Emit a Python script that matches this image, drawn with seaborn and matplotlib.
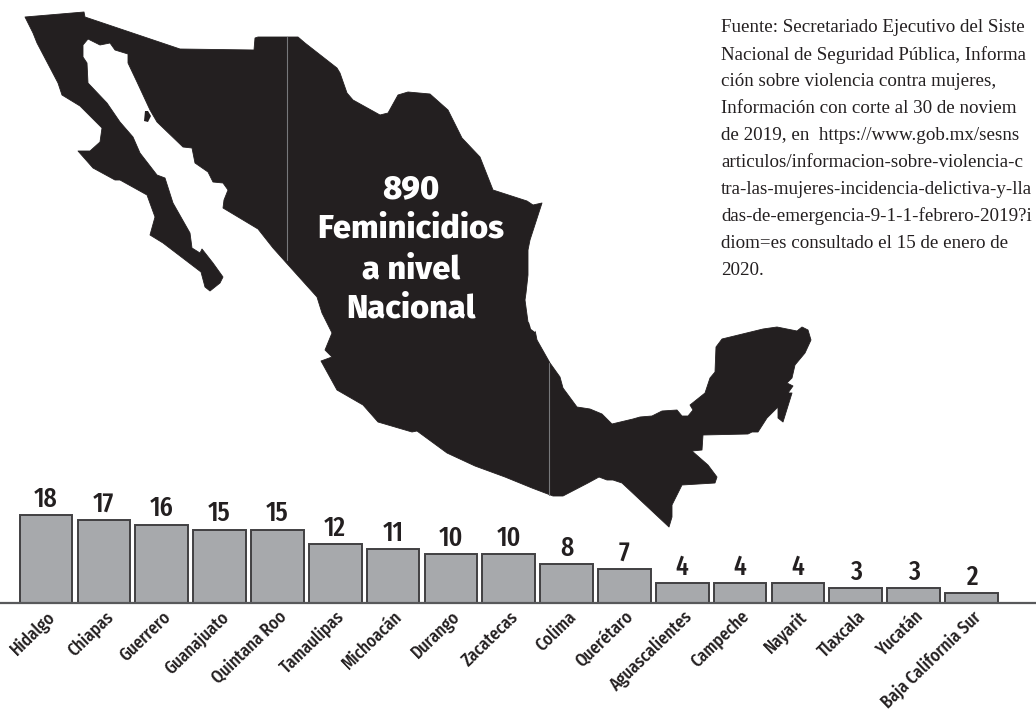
import matplotlib
matplotlib.use('Agg')
import matplotlib.pyplot as plt
import matplotlib.transforms as mtrans
from matplotlib.patches import Polygon
import seaborn as sns

estados = ['Hidalgo', 'Chiapas', 'Guerrero', 'Guanajuato', 'Quintana Roo', 'Tamaulipas',
           'Michoacán', 'Durango', 'Zacatecas', 'Colima', 'Querétaro', 'Aguascalientes',
           'Campeche', 'Nayarit', 'Tlaxcala', 'Yucatán', 'Baja California Sur']
feminicidios = [18, 17, 16, 15, 15, 12, 11, 10, 10, 8, 7, 4, 4, 4, 3, 3, 2]

titulo = ['890', 'Feminicidios', 'a nivel', 'Nacional']
fuente = ['Fuente: Secretariado Ejecutivo del Siste',
          'Nacional de Seguridad Pública, Informa',
          'ción sobre violencia contra mujeres,',
          'Información con corte al 30 de noviem',
          'de 2019, en  https://www.gob.mx/sesns',
          'articulos/informacion-sobre-violencia-c',
          'tra-las-mujeres-incidencia-delictiva-y-lla',
          'das-de-emergencia-9-1-1-febrero-2019?i',
          'diom=es consultado el 15 de enero de',
          '2020.']

# silueta del mapa, en pixeles de la imagen
mapa = [(25, 17), (84, 12), (85, 17), (180, 49), (254, 50), (255, 38), (258, 37), (298, 37),
        (305, 43), (337, 68), (340, 73), (347, 93), (353, 100), (380, 115), (388, 113), (398, 95),
        (408, 92), (430, 94), (448, 110), (462, 138), (480, 157), (493, 190), (527, 201), (533, 205),
        (542, 203), (530, 240), (528, 250), (528, 275), (526, 293), (525, 300), (528, 322), (535, 330),
        (537, 340), (550, 363), (560, 377), (563, 388), (577, 407), (590, 409), (602, 414), (612, 424),
        (633, 419), (640, 417), (652, 416), (662, 411), (677, 410), (682, 416), (688, 416), (693, 410),
        (690, 405), (705, 393), (710, 378), (715, 372), (716, 347), (722, 339), (763, 329), (777, 327),
        (797, 331), (802, 327), (808, 330), (811, 340), (805, 353), (795, 365), (792, 378), (787, 383),
        (793, 386), (788, 393), (792, 393), (783, 422), (778, 418), (778, 407), (767, 418), (758, 432),
        (752, 432), (748, 434), (703, 435), (702, 450), (692, 451), (708, 465), (717, 477), (715, 483),
        (682, 485), (672, 505), (672, 517), (669, 527), (622, 483), (613, 480), (607, 480), (599, 477),
        (588, 483), (563, 496), (553, 496), (532, 488), (505, 477), (475, 466), (447, 453), (417, 431),
        (412, 432), (378, 422), (363, 405), (337, 390), (321, 361), (332, 357), (325, 350), (332, 333),
        (322, 313), (317, 297), (290, 267), (273, 248), (258, 229), (238, 217), (223, 208), (224, 200),
        (228, 190), (223, 183), (213, 182), (208, 172), (195, 163), (192, 148), (183, 147), (157, 122),
        (150, 110), (137, 82), (128, 63), (128, 54), (115, 50), (110, 43), (100, 45), (88, 39),
        (83, 45), (83, 57), (87, 63), (88, 83), (107, 103), (120, 122), (133, 137), (140, 153),
        (157, 175), (165, 178), (173, 203), (190, 233), (192, 248), (200, 253), (202, 249), (213, 263),
        (223, 277), (220, 283), (210, 291), (205, 287), (201, 272), (163, 243), (150, 235), (155, 217),
        (147, 195), (120, 180), (115, 180), (93, 168), (78, 151), (90, 151), (100, 142), (102, 128),
        (80, 106), (62, 95), (58, 83), (37, 43), (33, 33)]
isla = [(145, 111), (148, 111), (151, 116), (148, 122), (144, 121)]
laguna = [(529, 322), (533, 324), (537, 329), (535, 332), (531, 329)]

sns.set_style('white')
plt.rcParams['font.family'] = ['Fira Sans Extra Condensed', 'Roboto Condensed', 'Roboto', 'DejaVu Sans']

ANCHO, ALTO = 1036, 714
NEGRO = '#231f20'

fig = plt.figure(figsize=(ANCHO / 100, ALTO / 100), dpi=100)

# mapa y textos
fondo = fig.add_axes([0, 0, 1, 1])
fondo.set_xlim(0, ANCHO)
fondo.set_ylim(ALTO, 0)
fondo.axis('off')
fondo.add_patch(Polygon(mapa, closed=True, fc=NEGRO, ec=NEGRO, lw=0.6, joinstyle='round'))
fondo.add_patch(Polygon(isla, closed=True, fc=NEGRO, ec='none'))
fondo.add_patch(Polygon(laguna, closed=True, fc='white', ec='none'))
fondo.plot([287, 287], [37, 260], color='#77787b', lw=0.8)
fondo.plot([549, 549], [363, 495], color='#77787b', lw=0.8)

for txt, y in zip(titulo, [186, 225, 266, 305]):
    fondo.text(411, y, txt, color='white', ha='center', va='center_baseline', fontsize=23.5,
               family=['Fira Sans', 'Open Sans'], fontweight=800)

for i, linea in enumerate(fuente):
    fondo.text(721, 28 + i * 26.9, linea, color=NEGRO, ha='left', va='center', fontsize=13.7,
               family='Liberation Serif')

# barras
ax = fig.add_axes([0, (ALTO - 603) / ALTO, 1, 120 / ALTO])
ax.patch.set_alpha(0)
sns.barplot(x=estados, y=feminicidios, color='#a7a9ac', saturation=1, width=0.91,
            edgecolor='#414042', linewidth=1.4, ax=ax)
ax.set_xlim(-46 / 57.84, (ANCHO - 46) / 57.84)
ax.set_ylim(0, 120 / 4.89)
ax.set_yticks([])
sns.despine(ax=ax, left=True)
ax.spines['bottom'].set_color('#58595b')
ax.spines['bottom'].set_linewidth(1.6)

for i, v in enumerate(feminicidios):
    ax.annotate(str(v), (i, v), xytext=(0, 2), textcoords='offset points', ha='center', va='bottom',
                fontsize=20, fontweight='medium', color=NEGRO)

ax.tick_params(axis='x', length=0, pad=0)
ax.set_xticks(range(len(estados)))
ax.set_xticklabels(estados, rotation=44, ha='right', va='top', rotation_mode='anchor',
                   fontsize=13.4, fontweight='medium', color=NEGRO)
offset = mtrans.ScaledTranslation(0.5 / 72, -3.5 / 72, fig.dpi_scale_trans)
for lab in ax.get_xticklabels():
    lab.set_transform(lab.get_transform() + offset)

fig.savefig('out.png', dpi=100)
